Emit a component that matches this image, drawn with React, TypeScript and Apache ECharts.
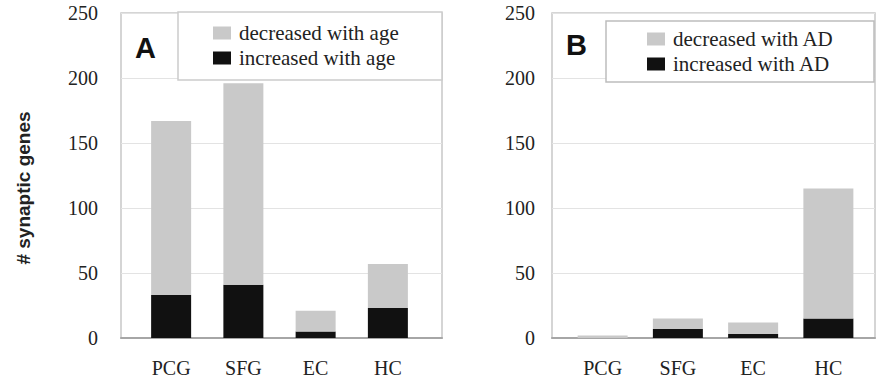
import React, { useEffect, useRef } from 'react';
import * as echarts from 'echarts';

const regions = ['PCG', 'SFG', 'EC', 'HC'];
const ageIncreased = [33, 41, 5, 23];
const ageDecreased = [134, 155, 16, 34];
const adIncreased = [0, 7, 3, 15];
const adDecreased = [2, 8, 9, 100];
const yMin = 0;
const yMax = 250;
const yStep = 50;

const serif = '"Liberation Serif", "Times New Roman", serif';
const sans = '"Liberation Sans", Arial, sans-serif';
const gray = '#c9c9c9';
const black = '#111111';

export default function App() {
  const ref = useRef<HTMLDivElement>(null);
  useEffect(() => {
    if (!ref.current) return;
    const chart = echarts.init(ref.current, null, { renderer: 'svg' });
    const frameY = (margin: number) => ({
      type: 'value', min: yMin, max: yMax, interval: yStep,
      axisLine: { show: false }, axisTick: { show: false },
      axisLabel: { fontFamily: serif, fontSize: 20, color: '#222', margin },
      splitLine: { lineStyle: { color: '#e3e3e3', width: 1 } },
    });
    const hiddenY = { type: 'value', min: yMin, max: yMax, interval: yStep, show: false, splitLine: { show: false } };
    const frameX = {
      type: 'category', data: regions,
      axisLabel: { show: false }, axisTick: { show: false },
      axisLine: { show: true, lineStyle: { color: '#a6a6a6', width: 2 } },
    };
    const barX = {
      type: 'category', data: regions,
      axisLine: { show: false }, axisTick: { show: false },
      axisLabel: { fontFamily: serif, fontSize: 20, color: '#222', margin: 20 },
    };
    const legendCommon = {
      orient: 'vertical', icon: 'rect', itemWidth: 18, itemHeight: 13, itemGap: 3, padding: 0,
      selectedMode: false,
      textStyle: { fontFamily: serif, fontSize: 21, color: '#222', lineHeight: 22, padding: [0, 0, 0, 3] },
    };
    chart.setOption({
      animation: false,
      backgroundColor: '#fff',
      grid: [
        { left: 121, top: 13, width: 321, height: 325, show: true, borderColor: '#c8c8c8', borderWidth: 1.5 },
        { left: 135, top: 13, width: 289, height: 325 },
        { left: 552, top: 13, width: 323, height: 325, show: true, borderColor: '#c8c8c8', borderWidth: 1.5 },
        { left: 565, top: 13, width: 301, height: 325 },
      ],
      xAxis: [
        { ...frameX, gridIndex: 0 },
        { ...barX, gridIndex: 1 },
        { ...frameX, gridIndex: 2 },
        { ...barX, gridIndex: 3 },
      ],
      yAxis: [
        { ...frameY(23), gridIndex: 0 },
        { ...hiddenY, gridIndex: 1 },
        { ...frameY(17), gridIndex: 2 },
        { ...hiddenY, gridIndex: 3 },
      ],
      legend: [
        { ...legendCommon, left: 213, top: 22, data: ['decreased with age', 'increased with age'] },
        { ...legendCommon, left: 647, top: 28, data: ['decreased with AD', 'increased with AD'] },
      ],
      graphic: [
        { type: 'rect', z: 3, shape: { x: 178, y: 12, width: 264, height: 68 }, style: { fill: '#fff', stroke: '#cccccc', lineWidth: 1.5 } },
        { type: 'rect', z: 3, shape: { x: 606, y: 21, width: 268, height: 61 }, style: { fill: '#fff', stroke: '#bdbdbd', lineWidth: 1.5 } },
        { type: 'text', z: 5, x: 135, y: 48, style: { text: 'A', font: `bold 29px ${sans}`, fill: '#111', verticalAlign: 'middle' } },
        { type: 'text', z: 5, x: 566, y: 45, style: { text: 'B', font: `bold 29px ${sans}`, fill: '#111', verticalAlign: 'middle' } },
        { type: 'text', z: 5, x: 23, y: 188, rotation: Math.PI / 2, style: { text: '# synaptic genes', font: `bold 19px ${sans}`, fill: '#222', align: 'center', verticalAlign: 'middle' } },
      ],
      series: [
        { type: 'bar', name: 'increased with age', xAxisIndex: 1, yAxisIndex: 1, stack: 'age', barWidth: 40, data: ageIncreased, itemStyle: { color: black } },
        { type: 'bar', name: 'decreased with age', xAxisIndex: 1, yAxisIndex: 1, stack: 'age', barWidth: 40, data: ageDecreased, itemStyle: { color: gray } },
        { type: 'bar', name: 'increased with AD', xAxisIndex: 3, yAxisIndex: 3, stack: 'ad', barWidth: 50, data: adIncreased, itemStyle: { color: black } },
        { type: 'bar', name: 'decreased with AD', xAxisIndex: 3, yAxisIndex: 3, stack: 'ad', barWidth: 50, data: adDecreased, itemStyle: { color: gray } },
      ],
    });
    return () => chart.dispose();
  }, []);
  return <div ref={ref} style={{ position: 'fixed', left: 0, top: 0, width: 876, height: 385 }} />;
}
